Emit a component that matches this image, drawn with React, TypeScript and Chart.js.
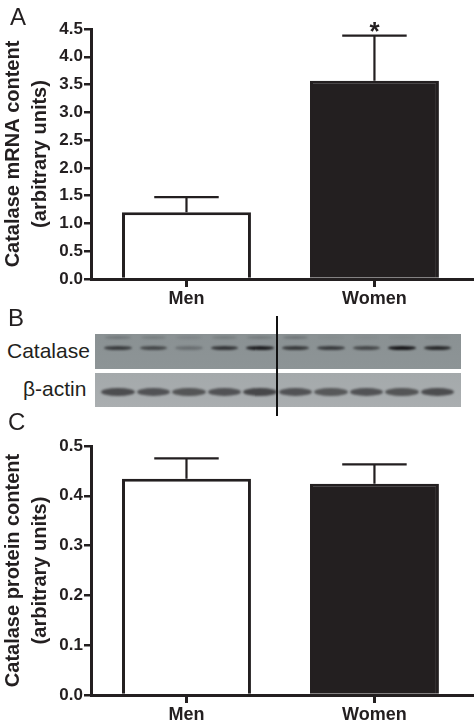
import { useEffect, useRef } from "react"
import { Chart, registerables } from "chart.js"

Chart.register(...registerables)

const categories = ["Men", "Women"]
const barFills = ["#ffffff", "#231f20"]

// A: catalase mRNA
const mrnaMeans = [1.2, 3.57]
const mrnaErrors = [0.275, 0.81]
const mrnaStars = [false, true]
const mrnaTicks = [0.0, 0.5, 1.0, 1.5, 2.0, 2.5, 3.0, 3.5, 4.0, 4.5]
const mrnaTitle = ["Catalase mRNA content", "(arbitrary units)"]

// C: catalase protein
const proteinMeans = [0.434, 0.424]
const proteinErrors = [0.041, 0.039]
const proteinStars = [false, false]
const proteinTicks = [0.0, 0.1, 0.2, 0.3, 0.4, 0.5]
const proteinTitle = ["Catalase protein content", "(arbitrary units)"]

// B: western blot band intensities per lane (0-1)
const catalaseBands = [0.7, 0.6, 0.28, 0.75, 0.95, 0.72, 0.7, 0.6, 1.0, 0.85]
const catalaseFaint = [0.25, 0.2, 0.12, 0.2, 0.22, 0.28, 0.05, 0.05, 0.05, 0.05]
const actinBands = [0.85, 0.8, 0.78, 0.8, 0.9, 0.8, 0.75, 0.8, 0.78, 0.85]

const ink = "#231f20"
const sans = "'Liberation Sans', Arial, sans-serif"

type PanelProps = {
  means: number[]
  errors: number[]
  stars: boolean[]
  ticks: number[]
  title: string[]
  top: number
  height: number
  areaTop: number
  axisHeight: number
}

function BarPanel({ means, errors, stars, ticks, title, top, height, areaTop, axisHeight }: PanelProps) {
  const chartRef = useRef<HTMLCanvasElement>(null)
  const chartInstance = useRef<Chart | null>(null)

  useEffect(() => {
    if (!chartRef.current) return

    if (chartInstance.current) {
      chartInstance.current.destroy()
    }

    const ctx = chartRef.current.getContext("2d")
    if (!ctx) return

    // SEM whiskers + significance star
    const errorBars = {
      id: "errorBars",
      afterDatasetsDraw(chart: Chart) {
        const c = chart.ctx
        const y = chart.scales.y
        const meta = chart.getDatasetMeta(0)
        c.save()
        c.strokeStyle = ink
        c.fillStyle = ink
        c.lineWidth = 2.2
        meta.data.forEach((bar: any, i: number) => {
          const cx = bar.x
          const yTop = y.getPixelForValue(means[i] + errors[i])
          const half = bar.width / 4
          c.beginPath()
          c.moveTo(cx, bar.y)
          c.lineTo(cx, yTop)
          c.moveTo(cx - half, yTop)
          c.lineTo(cx + half, yTop)
          c.stroke()
          if (stars[i]) {
            c.font = `bold 26px ${sans}`
            c.textAlign = "center"
            c.textBaseline = "alphabetic"
            c.fillText("*", cx, yTop + 4)
          }
        })
        c.restore()
      },
    }

    chartInstance.current = new Chart(ctx, {
      type: "bar",
      data: {
        datasets: [
          {
            data: categories.map((_, i) => ({ x: i, y: means[i] })),
            backgroundColor: barFills,
            borderColor: ink,
            borderWidth: 3,
            barPercentage: 0.686,
            categoryPercentage: 1,
          },
        ],
      },
      options: {
        animation: false,
        responsive: true,
        maintainAspectRatio: false,
        layout: {
          padding: { top: areaTop, right: 2, left: 0, bottom: 0 },
        },
        plugins: {
          legend: { display: false },
          tooltip: { enabled: false },
        },
        scales: {
          x: {
            type: "linear",
            min: -0.508,
            max: 1.519,
            bounds: "data",
            offset: false,
            afterBuildTicks: (s: any) => {
              s.ticks = categories.map((_, i) => ({ value: i }))
            },
            afterFit: (s: any) => {
              s.height = axisHeight
              s.paddingLeft = 0
              s.paddingRight = 0
            },
            ticks: {
              callback: (v: any) => categories[v],
              font: { family: sans, size: 18, weight: "bold" },
              color: ink,
              padding: 1,
              maxRotation: 0,
            },
            grid: {
              offset: false,
              drawOnChartArea: false,
              drawTicks: true,
              tickLength: 8,
              lineWidth: 3,
              color: ink,
            },
            border: { display: true, color: ink, width: 3 },
          },
          y: {
            min: 0,
            max: ticks[ticks.length - 1],
            afterBuildTicks: (s: any) => {
              s.ticks = ticks.map((v) => ({ value: v }))
            },
            afterFit: (s: any) => {
              s.width = 91
              s.paddingTop = 0
              s.paddingBottom = 0
            },
            ticks: {
              callback: (v: any) => Number(v).toFixed(1),
              font: { family: sans, size: 17, weight: "bold" },
              color: ink,
              padding: 1,
            },
            grid: {
              drawOnChartArea: false,
              drawTicks: true,
              tickLength: 7,
              lineWidth: 2.5,
              color: ink,
            },
            border: { display: true, color: ink, width: 3 },
            title: {
              display: true,
              text: title,
              font: { family: sans, size: 20, weight: "bold", lineHeight: 1.35 },
              color: ink,
              padding: 0,
            },
          },
        },
      },
      plugins: [errorBars],
    } as any)

    return () => {
      if (chartInstance.current) {
        chartInstance.current.destroy()
      }
    }
  }, [])

  return (
    <div style={{ position: "absolute", left: 0, top, width: 474, height }}>
      <canvas ref={chartRef} />
    </div>
  )
}

function Lane({ strength, faint, actin }: { strength: number; faint?: number; actin?: boolean }) {
  return (
    <div style={{ flex: 1, position: "relative", height: "100%" }}>
      {faint ? (
        <div
          style={{
            position: "absolute", left: 5, right: 5, top: 2, height: 3,
            borderRadius: "50%", background: `rgba(40,44,46,${faint})`, filter: "blur(1px)",
          }}
        />
      ) : null}
      <div
        style={{
          position: "absolute",
          left: actin ? 1 : 4,
          right: actin ? 1 : 4,
          top: actin ? 15 : 12,
          height: actin ? 8 : 4,
          borderRadius: "50%",
          background: actin ? `rgba(60,60,62,${strength})` : `rgba(22,22,24,${strength})`,
          filter: "blur(0.8px)",
        }}
      />
    </div>
  )
}

function Blot() {
  const strip = { position: "absolute" as const, left: 95, width: 366, display: "flex", paddingLeft: 5, paddingRight: 6, boxSizing: "border-box" as const }
  return (
    <>
      <div style={{ ...strip, top: 334, height: 35, background: "linear-gradient(#8a9193, #8d9496)" }}>
        {catalaseBands.map((b, i) => (
          <Lane key={i} strength={b} faint={catalaseFaint[i]} />
        ))}
      </div>
      <div style={{ ...strip, top: 373, height: 34, background: "linear-gradient(#a4a9ab, #aaaeb0)" }}>
        {actinBands.map((b, i) => (
          <Lane key={i} strength={b} actin />
        ))}
      </div>
      <div style={{ position: "absolute", left: 276, top: 316, width: 2, height: 100, background: "#111" }} />
      <div style={{ position: "absolute", left: 7, top: 340, font: `21px/21px ${sans}`, color: ink }}>Catalase</div>
      <div style={{ position: "absolute", left: 23, top: 378, font: `21px/21px ${sans}`, color: ink }}>β-actin</div>
    </>
  )
}

const panelLabel = (text: string, left: number, top: number) => (
  <div style={{ position: "absolute", left, top, font: `24px/24px ${sans}`, color: ink }}>{text}</div>
)

export default function App() {
  return (
    <div style={{ position: "absolute", left: 0, top: 0, width: 474, height: 724, background: "#fff", overflow: "hidden" }}>
      <BarPanel
        means={mrnaMeans}
        errors={mrnaErrors}
        stars={mrnaStars}
        ticks={mrnaTicks}
        title={mrnaTitle}
        top={0}
        height={312}
        areaTop={29}
        axisHeight={33}
      />
      <Blot />
      <BarPanel
        means={proteinMeans}
        errors={proteinErrors}
        stars={proteinStars}
        ticks={proteinTicks}
        title={proteinTitle}
        top={420}
        height={304}
        areaTop={26}
        axisHeight={29}
      />
      {panelLabel("A", 10, 5)}
      {panelLabel("B", 8, 306)}
      {panelLabel("C", 8, 410)}
    </div>
  )
}
